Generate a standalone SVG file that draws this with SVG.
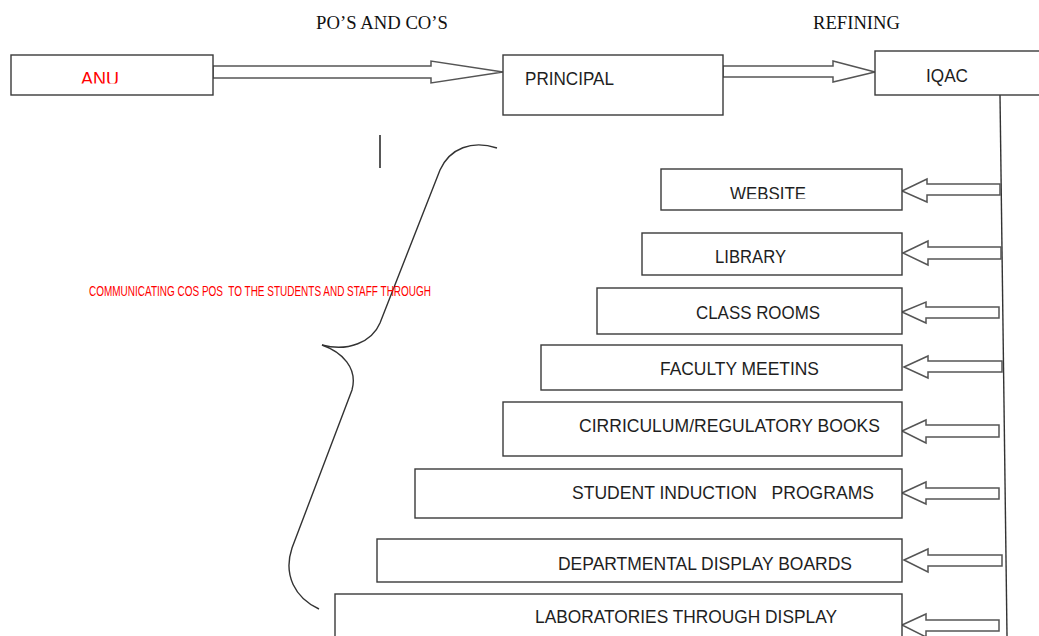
<svg xmlns="http://www.w3.org/2000/svg" width="1039" height="636" viewBox="0 0 1039 636">
<style>
.box{fill:#fff;stroke:#3a3a3a;stroke-width:1.4}
.lbl{font-family:"Liberation Sans",Arial,sans-serif;font-size:17.5px;fill:#1e1e1e}
.red{fill:#ff0000}
.ttl{font-family:"Liberation Serif","Times New Roman",serif;font-size:18.5px;fill:#111}
.arr{fill:#fff;stroke:#555;stroke-width:1.5;stroke-linejoin:miter}
.ln{fill:none;stroke:#333;stroke-width:1.4}
</style>
<defs>
<clipPath id="clipAnu"><rect x="0" y="0" width="300" height="83.5"/></clipPath>
<clipPath id="clipWeb"><rect x="600" y="150" width="300" height="49"/></clipPath>
</defs>
<rect width="1039" height="636" fill="#fff"/>

<text class="ttl" x="316" y="29" textLength="132" lengthAdjust="spacingAndGlyphs">PO’S AND CO’S</text>
<text class="ttl" x="813" y="29" textLength="87" lengthAdjust="spacingAndGlyphs">REFINING</text>

<g id="connectors">
<polygon class="arr" points="213,66 431,66 431,61 503,72 431,83 431,78 213,78"/>
<polygon class="arr" points="723,66 833,66 833,61 875,72 833,82 833,77 723,77"/>
<line class="ln" x1="1000" y1="95" x2="1007" y2="636"/>
<polygon class="arr" points="902,191 927,179 927,184 1000,184 1000,195 927,195 927,202"/>
<polygon class="arr" points="903,253 928,241 928,247 1001,247 1001,259 928,259 928,265"/>
<polygon class="arr" points="902,312 926,302 926,307 999,307 999,318 926,318 926,323"/>
<polygon class="arr" points="904,367 928,356 928,361 1002,361 1002,372 928,372 928,378"/>
<polygon class="arr" points="902,431 926,420 926,425 999,425 999,437 926,437 926,443"/>
<polygon class="arr" points="902,493 926,482 926,488 999,488 999,499 926,499 926,504"/>
<polygon class="arr" points="904,560 928,549 928,555 1002,555 1002,566 928,566 928,572"/>
<polygon class="arr" points="902,625 926,614 926,620 999,620 999,631 926,631 926,637"/>
</g>

<g id="brace">
<path class="ln" d="M497,148 C472,140 450,148 440,170 L380,323 C372,342 348,352 322,345"/>
<path class="ln" d="M322,345 C342,352 358,368 352,390 L292,548 C283,575 295,598 319,609"/>
<line class="ln" x1="380" y1="135" x2="380" y2="168" style="stroke:#111"/>
<text class="red" x="89" y="296" font-family="Liberation Sans, Arial, sans-serif" font-size="15" textLength="342" lengthAdjust="spacingAndGlyphs" xml:space="preserve">COMMUNICATING COS POS  TO THE STUDENTS AND STAFF THROUGH</text>
</g>

<g id="anu">
<rect class="box" x="11" y="55" width="202" height="40"/>
<text class="lbl red" x="81" y="85" textLength="38" lengthAdjust="spacingAndGlyphs" clip-path="url(#clipAnu)">ANU</text>
</g>
<g id="principal">
<rect class="box" x="503" y="55" width="220" height="60"/>
<text class="lbl" x="525" y="85" textLength="89" lengthAdjust="spacingAndGlyphs">PRINCIPAL</text>
</g>
<g id="iqac">
<rect class="box" x="875" y="51" width="175" height="44"/>
<text class="lbl" x="926" y="82" textLength="42" lengthAdjust="spacingAndGlyphs">IQAC</text>
</g>
<g id="website">
<rect class="box" x="661" y="169" width="241" height="41"/>
<text class="lbl" x="730" y="200" textLength="76" lengthAdjust="spacingAndGlyphs" clip-path="url(#clipWeb)">WEBSITE</text>
</g>
<g id="library">
<rect class="box" x="642" y="233" width="260" height="42"/>
<text class="lbl" x="715" y="263" textLength="71" lengthAdjust="spacingAndGlyphs">LIBRARY</text>
</g>
<g id="classrooms">
<rect class="box" x="597" y="288" width="305" height="46"/>
<text class="lbl" x="696" y="319" textLength="124" lengthAdjust="spacingAndGlyphs">CLASS ROOMS</text>
</g>
<g id="faculty">
<rect class="box" x="541" y="345" width="361" height="45"/>
<text class="lbl" x="660" y="375" textLength="159" lengthAdjust="spacingAndGlyphs">FACULTY MEETINS</text>
</g>
<g id="curriculum">
<rect class="box" x="503" y="402" width="399" height="54"/>
<text class="lbl" x="579" y="432" textLength="301" lengthAdjust="spacingAndGlyphs">CIRRICULUM/REGULATORY BOOKS</text>
</g>
<g id="induction">
<rect class="box" x="415" y="469" width="487" height="49"/>
<text class="lbl" x="572" y="499" textLength="302" lengthAdjust="spacingAndGlyphs" xml:space="preserve">STUDENT INDUCTION   PROGRAMS</text>
</g>
<g id="display-boards">
<rect class="box" x="377" y="539" width="525" height="43"/>
<text class="lbl" x="558" y="570" textLength="294" lengthAdjust="spacingAndGlyphs">DEPARTMENTAL DISPLAY BOARDS</text>
</g>
<g id="laboratories">
<rect class="box" x="335" y="594" width="567" height="60"/>
<text class="lbl" x="535" y="623" textLength="302" lengthAdjust="spacingAndGlyphs">LABORATORIES THROUGH DISPLAY</text>
</g>
</svg>
